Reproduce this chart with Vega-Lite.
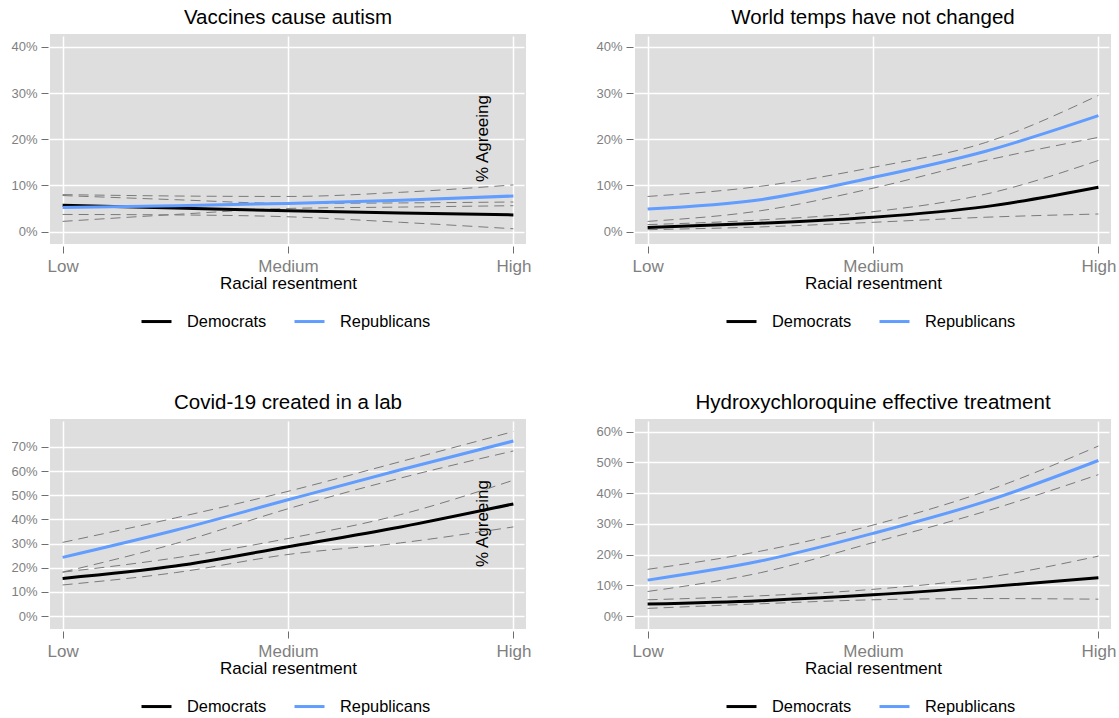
{
  "$schema": "https://vega.github.io/schema/vega-lite/v6.json",
  "padding": {"left": 10, "top": 7, "right": 0, "bottom": 0},
  "autosize": {"type": "pad"},
  "background": "#FFFFFF",
  "datasets": {
    "d": [
      {"q": "Vaccines cause autism", "party": "Democrats", "x": 0, "est": 0.057, "lo": 0.037, "hi": 0.078},
      {"q": "Vaccines cause autism", "party": "Democrats", "x": 0.25, "est": 0.051, "lo": 0.036, "hi": 0.069},
      {"q": "Vaccines cause autism", "party": "Democrats", "x": 0.5, "est": 0.045, "lo": 0.032, "hi": 0.061},
      {"q": "Vaccines cause autism", "party": "Democrats", "x": 0.75, "est": 0.040, "lo": 0.020, "hi": 0.062},
      {"q": "Vaccines cause autism", "party": "Democrats", "x": 1, "est": 0.036, "lo": 0.006, "hi": 0.064},
      {"q": "Vaccines cause autism", "party": "Republicans", "x": 0, "est": 0.052, "lo": 0.022, "hi": 0.080},
      {"q": "Vaccines cause autism", "party": "Republicans", "x": 0.25, "est": 0.056, "lo": 0.037, "hi": 0.077},
      {"q": "Vaccines cause autism", "party": "Republicans", "x": 0.5, "est": 0.061, "lo": 0.050, "hi": 0.076},
      {"q": "Vaccines cause autism", "party": "Republicans", "x": 0.75, "est": 0.068, "lo": 0.053, "hi": 0.085},
      {"q": "Vaccines cause autism", "party": "Republicans", "x": 1, "est": 0.077, "lo": 0.056, "hi": 0.101},

      {"q": "World temps have not changed", "party": "Democrats", "x": 0, "est": 0.009, "lo": 0.004, "hi": 0.015},
      {"q": "World temps have not changed", "party": "Democrats", "x": 0.25, "est": 0.018, "lo": 0.010, "hi": 0.025},
      {"q": "World temps have not changed", "party": "Democrats", "x": 0.5, "est": 0.031, "lo": 0.020, "hi": 0.043},
      {"q": "World temps have not changed", "party": "Democrats", "x": 0.75, "est": 0.054, "lo": 0.031, "hi": 0.081},
      {"q": "World temps have not changed", "party": "Democrats", "x": 1, "est": 0.096, "lo": 0.038, "hi": 0.154},
      {"q": "World temps have not changed", "party": "Republicans", "x": 0, "est": 0.049, "lo": 0.022, "hi": 0.076},
      {"q": "World temps have not changed", "party": "Republicans", "x": 0.25, "est": 0.069, "lo": 0.045, "hi": 0.098},
      {"q": "World temps have not changed", "party": "Republicans", "x": 0.5, "est": 0.117, "lo": 0.094, "hi": 0.139},
      {"q": "World temps have not changed", "party": "Republicans", "x": 0.75, "est": 0.174, "lo": 0.154, "hi": 0.193},
      {"q": "World temps have not changed", "party": "Republicans", "x": 1, "est": 0.251, "lo": 0.204, "hi": 0.295},

      {"q": "Covid-19 created in a lab", "party": "Democrats", "x": 0, "est": 0.156, "lo": 0.129, "hi": 0.182},
      {"q": "Covid-19 created in a lab", "party": "Democrats", "x": 0.25, "est": 0.207, "lo": 0.180, "hi": 0.241},
      {"q": "Covid-19 created in a lab", "party": "Democrats", "x": 0.5, "est": 0.287, "lo": 0.255, "hi": 0.321},
      {"q": "Covid-19 created in a lab", "party": "Democrats", "x": 0.75, "est": 0.369, "lo": 0.303, "hi": 0.420},
      {"q": "Covid-19 created in a lab", "party": "Democrats", "x": 1, "est": 0.464, "lo": 0.369, "hi": 0.562},
      {"q": "Covid-19 created in a lab", "party": "Republicans", "x": 0, "est": 0.243, "lo": 0.182, "hi": 0.305},
      {"q": "Covid-19 created in a lab", "party": "Republicans", "x": 0.25, "est": 0.355, "lo": 0.300, "hi": 0.406},
      {"q": "Covid-19 created in a lab", "party": "Republicans", "x": 0.5, "est": 0.481, "lo": 0.444, "hi": 0.516},
      {"q": "Covid-19 created in a lab", "party": "Republicans", "x": 0.75, "est": 0.605, "lo": 0.571, "hi": 0.639},
      {"q": "Covid-19 created in a lab", "party": "Republicans", "x": 1, "est": 0.724, "lo": 0.683, "hi": 0.763},

      {"q": "Hydroxychloroquine effective treatment", "party": "Democrats", "x": 0, "est": 0.039, "lo": 0.025, "hi": 0.053},
      {"q": "Hydroxychloroquine effective treatment", "party": "Democrats", "x": 0.25, "est": 0.050, "lo": 0.040, "hi": 0.066},
      {"q": "Hydroxychloroquine effective treatment", "party": "Democrats", "x": 0.5, "est": 0.069, "lo": 0.053, "hi": 0.087},
      {"q": "Hydroxychloroquine effective treatment", "party": "Democrats", "x": 0.75, "est": 0.095, "lo": 0.057, "hi": 0.125},
      {"q": "Hydroxychloroquine effective treatment", "party": "Democrats", "x": 1, "est": 0.125, "lo": 0.055, "hi": 0.195},
      {"q": "Hydroxychloroquine effective treatment", "party": "Republicans", "x": 0, "est": 0.117, "lo": 0.080, "hi": 0.152},
      {"q": "Hydroxychloroquine effective treatment", "party": "Republicans", "x": 0.25, "est": 0.179, "lo": 0.141, "hi": 0.211},
      {"q": "Hydroxychloroquine effective treatment", "party": "Republicans", "x": 0.5, "est": 0.269, "lo": 0.239, "hi": 0.296},
      {"q": "Hydroxychloroquine effective treatment", "party": "Republicans", "x": 0.75, "est": 0.373, "lo": 0.341, "hi": 0.406},
      {"q": "Hydroxychloroquine effective treatment", "party": "Republicans", "x": 1, "est": 0.506, "lo": 0.460, "hi": 0.553}
    ]
  },
  "config": {
    "font": "Liberation Sans",
    "view": {"fill": "#DEDEDE", "stroke": null},
    "title": {"fontSize": 20.5, "fontWeight": "normal", "color": "#000000", "anchor": "middle", "offset": 6, "font": "Liberation Sans"},
    "axis": {
      "domain": false,
      "labelFont": "Liberation Sans",
      "titleFont": "Liberation Sans",
      "labelColor": "#7F7F7F",
      "labelOverlap": false,
      "tickColor": "#6E6E6E",
      "tickSize": 7,
      "offset": 2,
      "gridColor": "#FFFFFF",
      "gridWidth": 1.5,
      "gridOpacity": 1,
      "titleColor": "#000000",
      "titleFontWeight": "normal",
      "titleFontSize": 17
    },
    "axisX": {"labelFontSize": 17, "labelPadding": 5, "titlePadding": 1},
    "axisY": {"labelFontSize": 13, "labelPadding": 4},
    "legend": {"labelFont": "Liberation Sans", "labelColor": "#000000"}
  },
  "columns": 2,
  "bounds": "flush",
  "spacing": {"row": 175, "column": 109},
  "resolve": {"scale": {"color": "independent", "y": "independent"}, "legend": {"color": "independent"}},
  "concat": [
    {
      "width": 476, "height": 210,
      "title": "Vaccines cause autism",
      "data": {"name": "d"},
      "transform": [{"filter": "datum.q == 'Vaccines cause autism'"}],
      "encoding": {
        "x": {"field": "x", "type": "quantitative", "scale": {"domain": [-0.028, 1.028], "nice": false, "zero": false},
              "axis": {"values": [0, 0.5, 1], "labelExpr": "datum.value == 0 ? 'Low' : (datum.value == 0.5 ? 'Medium' : 'High')", "title": "Racial resentment"}}
      },
      "layer": [
        {"mark": {"type": "line", "color": "#7A7A7A", "strokeWidth": 1, "strokeDash": [10, 6], "interpolate": "monotone"},
         "encoding": {"y": {"field": "lo", "type": "quantitative", "scale": {"domain": [-0.027, 0.428], "nice": false, "zero": false}, "title": "% Agreeing",
                 "axis": {"values": [0, 0.1, 0.2, 0.3, 0.4], "format": ".0%", "titleX": 439, "titleY": 104, "titleAngle": 270, "titleBaseline": "alphabetic", "titleAlign": "center"}}, "detail": {"field": "party"}}},
        {"mark": {"type": "line", "color": "#7A7A7A", "strokeWidth": 1, "strokeDash": [10, 6], "interpolate": "monotone"},
         "encoding": {"y": {"field": "hi", "type": "quantitative", "title": "% Agreeing",
                 "axis": {"values": [0, 0.1, 0.2, 0.3, 0.4], "format": ".0%", "titleX": 439, "titleY": 104, "titleAngle": 270, "titleBaseline": "alphabetic", "titleAlign": "center"}}, "detail": {"field": "party"}}},
        {"mark": {"type": "line", "strokeWidth": 3, "interpolate": "monotone"},
         "encoding": {
           "y": {"field": "est", "type": "quantitative", "title": "% Agreeing",
                 "axis": {"values": [0, 0.1, 0.2, 0.3, 0.4], "format": ".0%", "titleX": 439, "titleY": 104, "titleAngle": 270, "titleBaseline": "alphabetic", "titleAlign": "center"}},
           "color": {"field": "party", "type": "nominal", "scale": {"domain": ["Democrats", "Republicans"], "range": ["#000000", "#619CFF"]},
                     "legend": {"orient": "none", "legendX": 90, "legendY": 271, "direction": "horizontal", "title": null, "symbolType": "stroke", "symbolSize": 900, "symbolStrokeWidth": 3, "labelFontSize": 16.4, "labelOffset": 14, "columnPadding": 21}}
         }}
      ]
    },
    {
      "width": 476, "height": 210,
      "title": "World temps have not changed",
      "data": {"name": "d"},
      "transform": [{"filter": "datum.q == 'World temps have not changed'"}],
      "encoding": {
        "x": {"field": "x", "type": "quantitative", "scale": {"domain": [-0.028, 1.028], "nice": false, "zero": false},
              "axis": {"values": [0, 0.5, 1], "labelExpr": "datum.value == 0 ? 'Low' : (datum.value == 0.5 ? 'Medium' : 'High')", "title": "Racial resentment"}}
      },
      "layer": [
        {"mark": {"type": "line", "color": "#7A7A7A", "strokeWidth": 1, "strokeDash": [10, 6], "interpolate": "monotone"},
         "encoding": {"y": {"field": "lo", "type": "quantitative", "scale": {"domain": [-0.027, 0.428], "nice": false, "zero": false}, "title": null,
                 "axis": {"values": [0, 0.1, 0.2, 0.3, 0.4], "format": ".0%"}}, "detail": {"field": "party"}}},
        {"mark": {"type": "line", "color": "#7A7A7A", "strokeWidth": 1, "strokeDash": [10, 6], "interpolate": "monotone"},
         "encoding": {"y": {"field": "hi", "type": "quantitative", "title": null,
                 "axis": {"values": [0, 0.1, 0.2, 0.3, 0.4], "format": ".0%"}}, "detail": {"field": "party"}}},
        {"mark": {"type": "line", "strokeWidth": 3, "interpolate": "monotone"},
         "encoding": {
           "y": {"field": "est", "type": "quantitative", "title": null, "axis": {"values": [0, 0.1, 0.2, 0.3, 0.4], "format": ".0%"}},
           "color": {"field": "party", "type": "nominal", "scale": {"domain": ["Democrats", "Republicans"], "range": ["#000000", "#619CFF"]},
                     "legend": {"orient": "none", "legendX": 90, "legendY": 271, "direction": "horizontal", "title": null, "symbolType": "stroke", "symbolSize": 900, "symbolStrokeWidth": 3, "labelFontSize": 16.4, "labelOffset": 14, "columnPadding": 21}}
         }}
      ]
    },
    {
      "width": 476, "height": 210,
      "title": "Covid-19 created in a lab",
      "data": {"name": "d"},
      "transform": [{"filter": "datum.q == 'Covid-19 created in a lab'"}],
      "encoding": {
        "x": {"field": "x", "type": "quantitative", "scale": {"domain": [-0.028, 1.028], "nice": false, "zero": false},
              "axis": {"values": [0, 0.5, 1], "labelExpr": "datum.value == 0 ? 'Low' : (datum.value == 0.5 ? 'Medium' : 'High')", "title": "Racial resentment"}}
      },
      "layer": [
        {"mark": {"type": "line", "color": "#7A7A7A", "strokeWidth": 1, "strokeDash": [10, 6], "interpolate": "monotone"},
         "encoding": {"y": {"field": "lo", "type": "quantitative", "scale": {"domain": [-0.053, 0.815], "nice": false, "zero": false}, "title": "% Agreeing",
                 "axis": {"values": [0, 0.1, 0.2, 0.3, 0.4, 0.5, 0.6, 0.7], "format": ".0%", "titleX": 439, "titleY": 104, "titleAngle": 270, "titleBaseline": "alphabetic", "titleAlign": "center"}}, "detail": {"field": "party"}}},
        {"mark": {"type": "line", "color": "#7A7A7A", "strokeWidth": 1, "strokeDash": [10, 6], "interpolate": "monotone"},
         "encoding": {"y": {"field": "hi", "type": "quantitative", "title": "% Agreeing",
                 "axis": {"values": [0, 0.1, 0.2, 0.3, 0.4, 0.5, 0.6, 0.7], "format": ".0%", "titleX": 439, "titleY": 104, "titleAngle": 270, "titleBaseline": "alphabetic", "titleAlign": "center"}}, "detail": {"field": "party"}}},
        {"mark": {"type": "line", "strokeWidth": 3, "interpolate": "monotone"},
         "encoding": {
           "y": {"field": "est", "type": "quantitative", "title": "% Agreeing",
                 "axis": {"values": [0, 0.1, 0.2, 0.3, 0.4, 0.5, 0.6, 0.7], "format": ".0%", "titleX": 439, "titleY": 104, "titleAngle": 270, "titleBaseline": "alphabetic", "titleAlign": "center"}},
           "color": {"field": "party", "type": "nominal", "scale": {"domain": ["Democrats", "Republicans"], "range": ["#000000", "#619CFF"]},
                     "legend": {"orient": "none", "legendX": 90, "legendY": 271, "direction": "horizontal", "title": null, "symbolType": "stroke", "symbolSize": 900, "symbolStrokeWidth": 3, "labelFontSize": 16.4, "labelOffset": 14, "columnPadding": 21}}
         }}
      ]
    },
    {
      "width": 476, "height": 210,
      "title": "Hydroxychloroquine effective treatment",
      "data": {"name": "d"},
      "transform": [{"filter": "datum.q == 'Hydroxychloroquine effective treatment'"}],
      "encoding": {
        "x": {"field": "x", "type": "quantitative", "scale": {"domain": [-0.028, 1.028], "nice": false, "zero": false},
              "axis": {"values": [0, 0.5, 1], "labelExpr": "datum.value == 0 ? 'Low' : (datum.value == 0.5 ? 'Medium' : 'High')", "title": "Racial resentment"}}
      },
      "layer": [
        {"mark": {"type": "line", "color": "#7A7A7A", "strokeWidth": 1, "strokeDash": [10, 6], "interpolate": "monotone"},
         "encoding": {"y": {"field": "lo", "type": "quantitative", "scale": {"domain": [-0.042, 0.641], "nice": false, "zero": false}, "title": null,
                 "axis": {"values": [0, 0.1, 0.2, 0.3, 0.4, 0.5, 0.6], "format": ".0%"}}, "detail": {"field": "party"}}},
        {"mark": {"type": "line", "color": "#7A7A7A", "strokeWidth": 1, "strokeDash": [10, 6], "interpolate": "monotone"},
         "encoding": {"y": {"field": "hi", "type": "quantitative", "title": null,
                 "axis": {"values": [0, 0.1, 0.2, 0.3, 0.4, 0.5, 0.6], "format": ".0%"}}, "detail": {"field": "party"}}},
        {"mark": {"type": "line", "strokeWidth": 3, "interpolate": "monotone"},
         "encoding": {
           "y": {"field": "est", "type": "quantitative", "title": null, "axis": {"values": [0, 0.1, 0.2, 0.3, 0.4, 0.5, 0.6], "format": ".0%"}},
           "color": {"field": "party", "type": "nominal", "scale": {"domain": ["Democrats", "Republicans"], "range": ["#000000", "#619CFF"]},
                     "legend": {"orient": "none", "legendX": 90, "legendY": 271, "direction": "horizontal", "title": null, "symbolType": "stroke", "symbolSize": 900, "symbolStrokeWidth": 3, "labelFontSize": 16.4, "labelOffset": 14, "columnPadding": 21}}
         }}
      ]
    }
  ]
}
